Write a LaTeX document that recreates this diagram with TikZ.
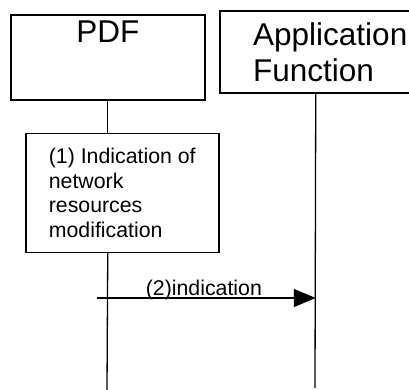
\documentclass[tikz,border=0pt]{standalone}
\usepackage{fontspec}
\setmainfont{Liberation Sans}
\usepackage{tikz}
\usetikzlibrary{arrows.meta,positioning}
\tikzset{entity/.style={
    % The shape:
    rectangle,
    % The border:
    line width=1.5bp,
    draw=black,
    % Font
    font=\fontsize{31.5bp}{36bp}\selectfont
    },
    activity/.style={
    rectangle,
    line width=1.5bp,
    draw=black,
    align=left,
    minimum width=193bp,
    minimum height=119bp,
    font=\fontsize{21.3bp}{24.67bp}\selectfont,
    },
    lifeline/.style={
    line width=1.3bp,
    draw=black,
    },
    message/.style={
    line width=1.3bp,
    -{Triangle[length=22bp,width=18bp]},
    },
    msglabel/.style={
    anchor=base,
    inner sep=0pt,
    font=\fontsize{21.3bp}{24.67bp}\selectfont,
    },
}

\begin{document}
\begin{tikzpicture}[x=1bp, y=-1bp, node distance = 32bp and 15bp]
    \useasboundingbox (0,0) rectangle (409,390);
    \node (pdf) [entity, anchor=north west, minimum width=194bp, minimum height=85bp,
                 inner ysep=5bp, text height=23bp, text depth=52bp] at (10,14) {PDF};
    \node (af)  [entity, anchor=north west, minimum width=192bp, minimum height=82bp,
                 align=left, inner xsep=33bp] at (219,10) {Application\hspace*{-29bp}\\Function};
    \node (act) [activity, below=of pdf.south, xshift=14.5bp]
                {(1) Indication of\\network\\resources\\modification};
    \coordinate (pdfend)   at (107,390);
    \coordinate (afend)    at (315,388);
    \coordinate (msgstart) at (97,298);
    % lifelines
    \draw [lifeline] (pdf.south) -- (act.north -| pdf.south);
    \draw [lifeline] (act.south -| pdf.south) -- (pdfend);
    \draw [lifeline] (af.south) -- (afend);
    % message
    \draw [message] (msgstart) -- (msgstart -| af.south)
        node (ind) [msglabel, midway, yshift=3bp, xshift=-2.5bp] {(2)indication};
\end{tikzpicture}
\end{document}
